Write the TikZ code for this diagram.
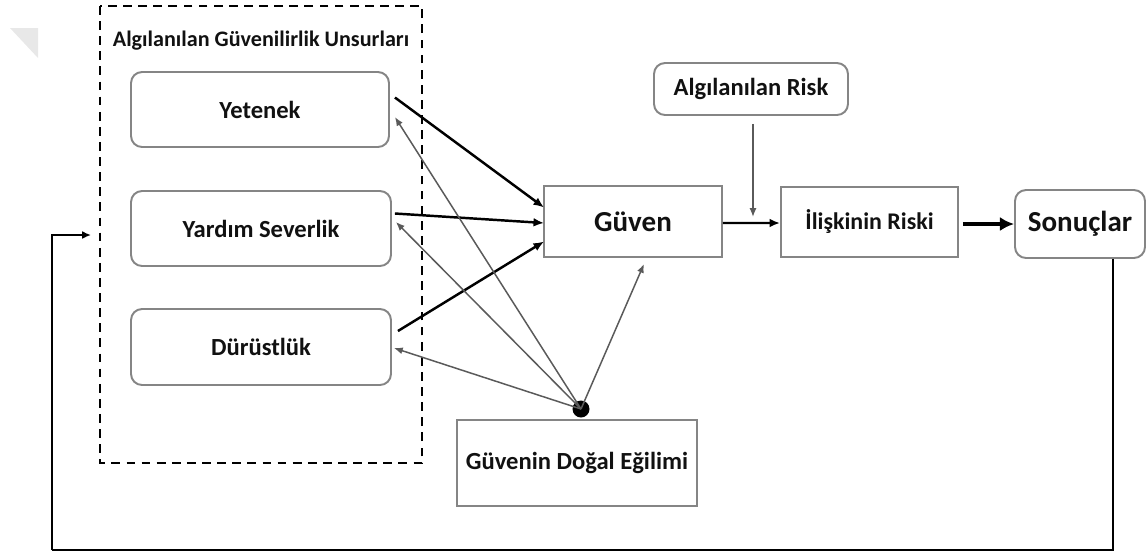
\documentclass[tikz,border=0pt]{standalone}
\usepackage{fontspec}
\setmainfont{Carlito}
\usetikzlibrary{calc,arrows.meta}
\definecolor{bordergray}{HTML}{858585}
\definecolor{thingray}{HTML}{5A5A5A}
\definecolor{txt}{HTML}{111111}
\tikzset{
  rbox/.style={draw=bordergray, line width=1.1pt, rounded corners=0.22cm, fill=white, text=txt, font=\fontsize{14}{16}\selectfont\bfseries, inner sep=0pt},
  sbox/.style={draw=bordergray, line width=1.1pt, fill=white, text=txt, font=\fontsize{14}{16}\selectfont\bfseries, inner sep=0pt},
  thick arr/.style={draw=black, line width=1.4pt, -{Latex[length=6pt,width=5pt]}},
  thin arr/.style={draw=thingray, line width=0.85pt, -{Latex[length=5pt,width=4pt]}},
  heavy arr/.style={draw=black, line width=2.6pt, -{Latex[length=8pt,width=8pt]}},
  fbline/.style={draw=black, line width=1.1pt},
}
\begin{document}
\begin{tikzpicture}[x=0.02cm,y=-0.02cm]
\useasboundingbox (0,0) rectangle (1147,556);
% faint watermark triangle
\fill[black!9] (10,28) -- (38,28) -- (38,58) -- cycle;
% dashed group
\draw[black, line width=1.5pt, dash pattern=on 5pt off 3.6pt] (100,6) rectangle (422,463);
\node[text=txt, font=\fontsize{12.6}{14}\selectfont\bfseries] (title) at (261,41) {Algılanılan Güvenilirlik Unsurları};
% nodes
\node[rbox, minimum width=5.16cm, minimum height=1.5cm] (yet) at (260,109.5) {Yetenek};
\node[rbox, minimum width=5.2cm, minimum height=1.5cm] (yar) at (261,228.5) {Yardım Severlik};
\node[rbox, minimum width=5.2cm, minimum height=1.52cm] (dur) at (261,347) {Dürüstlük};
\node[sbox, minimum width=3.56cm, minimum height=1.42cm, font=\fontsize{16.5}{18}\selectfont\bfseries] (guv) at (633,221.5) {Güven};
\node[sbox, minimum width=3.54cm, minimum height=1.4cm, font=\fontsize{13.6}{16}\selectfont\bfseries] (ili) at (869.5,222) {İlişkinin Riski};
\node[rbox, minimum width=2.6cm, minimum height=1.36cm, font=\fontsize{16.5}{18}\selectfont\bfseries] (son) at (1080,224) {Sonuçlar};
\node[rbox, minimum width=3.88cm, minimum height=1.04cm] (alr) at (751,89) {Algılanılan Risk};
\node[sbox, minimum width=4.8cm, minimum height=1.72cm] (gde) at (577,463) {Güvenin Doğal Eğilimi};
\node[circle, fill=black, minimum size=0.34cm, inner sep=0pt] (dot) at (581,409) {};
% thick arrows into Güven
\draw[thick arr] ($(yet.east)+(5,-12)$) -- ($(guv.west)+(1,-14)$);
\draw[thick arr] ($(yar.east)+(3,-15)$) -- ($(guv.west)+(1,1.5)$);
\draw[thick arr] ($(dur.east)+(6,-16)$) -- ($(guv.west)+(1,20)$);
% thin arrows from dot
\draw[thin arr] (dot.center) -- ($(yet.east)+(5,7.5)$);
\draw[thin arr] (dot.center) -- ($(yar.east)+(4,-6.5)$);
\draw[thin arr] (dot.center) -- ($(dur.east)+(2,1)$);
\draw[thin arr] (dot.center) -- ($(guv.south)+(11,6)$);
% perceived risk
\draw[thin arr] ($(alr.south)+(2,8)$) -- ($(alr.south)+(2,101)$);
% main chain
\draw[thick arr] ($(guv.east)+(0,1.5)$) -- ($(ili.west)+(0,1)$);
\draw[heavy arr] ($(ili.east)+(4,2)$) -- (son.west);
% feedback loop
\coordinate (fbl) at (52,550);
\coordinate (fbend) at (91,235);
\draw[fbline] ($(son.south)+(33,0)$) |- (fbl);
\draw[fbline, -{Latex[length=5pt,width=4.5pt]}] (fbl) |- (fbend);
\end{tikzpicture}
\end{document}
